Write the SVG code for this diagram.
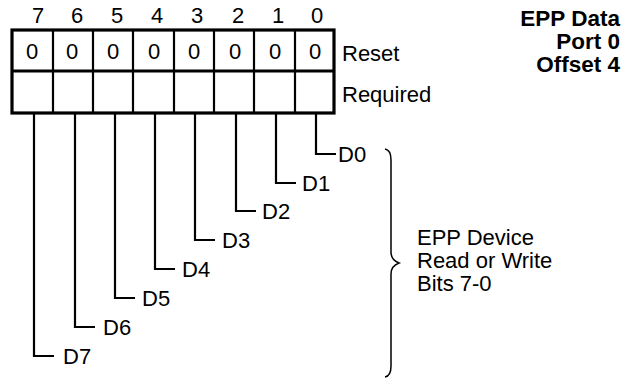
<svg xmlns="http://www.w3.org/2000/svg" width="632" height="380" viewBox="0 0 632 380">
<style>
text{font-family:"Liberation Sans",Arial,sans-serif;font-size:22px;fill:#000}
.c{text-anchor:middle}
.b{font-weight:bold;text-anchor:end;font-size:22.5px}
.ln{stroke:#000;stroke-width:2.2;fill:none}
.ol{stroke:#000;stroke-width:3.2;fill:none}
</style>
<rect width="632" height="380" fill="#fff"/>
<g id="title">
<text class="b" x="620" y="26">EPP Data</text>
<text class="b" x="620" y="49">Port 0</text>
<text class="b" x="620" y="72">Offset 4</text>
</g>
<g id="register">
<g id="bitnums">
<text class="c" x="38" y="23">7</text>
<text class="c" x="77" y="23">6</text>
<text class="c" x="117" y="23">5</text>
<text class="c" x="157" y="23">4</text>
<text class="c" x="197" y="23">3</text>
<text class="c" x="238" y="23">2</text>
<text class="c" x="278" y="23">1</text>
<text class="c" x="317" y="23">0</text>
</g>
<line class="ln" x1="53" y1="30" x2="53" y2="113"/>
<line class="ln" x1="93" y1="30" x2="93" y2="113"/>
<line class="ln" x1="133" y1="30" x2="133" y2="113"/>
<line class="ln" x1="174" y1="30" x2="174" y2="113"/>
<line class="ln" x1="214" y1="30" x2="214" y2="113"/>
<line class="ln" x1="254" y1="30" x2="254" y2="113"/>
<line class="ln" x1="295" y1="30" x2="295" y2="113"/>
<line class="ol" x1="12" y1="71" x2="334" y2="71"/>
<rect class="ol" x="12" y="30" width="322" height="83"/>
<g id="reset">
<text class="c" x="32" y="59">0</text>
<text class="c" x="72" y="59">0</text>
<text class="c" x="113" y="59">0</text>
<text class="c" x="154" y="59">0</text>
<text class="c" x="194" y="59">0</text>
<text class="c" x="235" y="59">0</text>
<text class="c" x="275" y="59">0</text>
<text class="c" x="315" y="59">0</text>
</g>
<text x="342" y="61">Reset</text>
<text x="342" y="102">Required</text>
</g>
<g id="connectors">
<polyline class="ln" points="316,113 316,154 336,154"/>
<polyline class="ln" points="276,113 276,183 296,183"/>
<polyline class="ln" points="236,113 236,211 256,211"/>
<polyline class="ln" points="195,113 195,240 215,240"/>
<polyline class="ln" points="155,113 155,269 175,269"/>
<polyline class="ln" points="115,113 115,298 135,298"/>
<polyline class="ln" points="75,113 75,327 95,327"/>
<polyline class="ln" points="34,113 34,356 54,356"/>
</g>
<g id="labels">
<text x="338" y="162">D0</text>
<text x="302" y="191">D1</text>
<text x="262" y="219">D2</text>
<text x="222" y="248">D3</text>
<text x="182" y="277">D4</text>
<text x="142" y="306">D5</text>
<text x="103" y="335">D6</text>
<text x="63" y="364">D7</text>
</g>
<g id="brace">
<path d="M385,149 Q391,150 391,160 L391,252 Q391,260 399,263 Q391,266 391,274 L391,366 Q391,376 385,377" stroke="#000" stroke-width="1.5" fill="none"/>
</g>
<g id="desc">
<text x="417" y="245">EPP Device</text>
<text x="417" y="268">Read or Write</text>
<text x="417" y="291">Bits 7-0</text>
</g>
</svg>
